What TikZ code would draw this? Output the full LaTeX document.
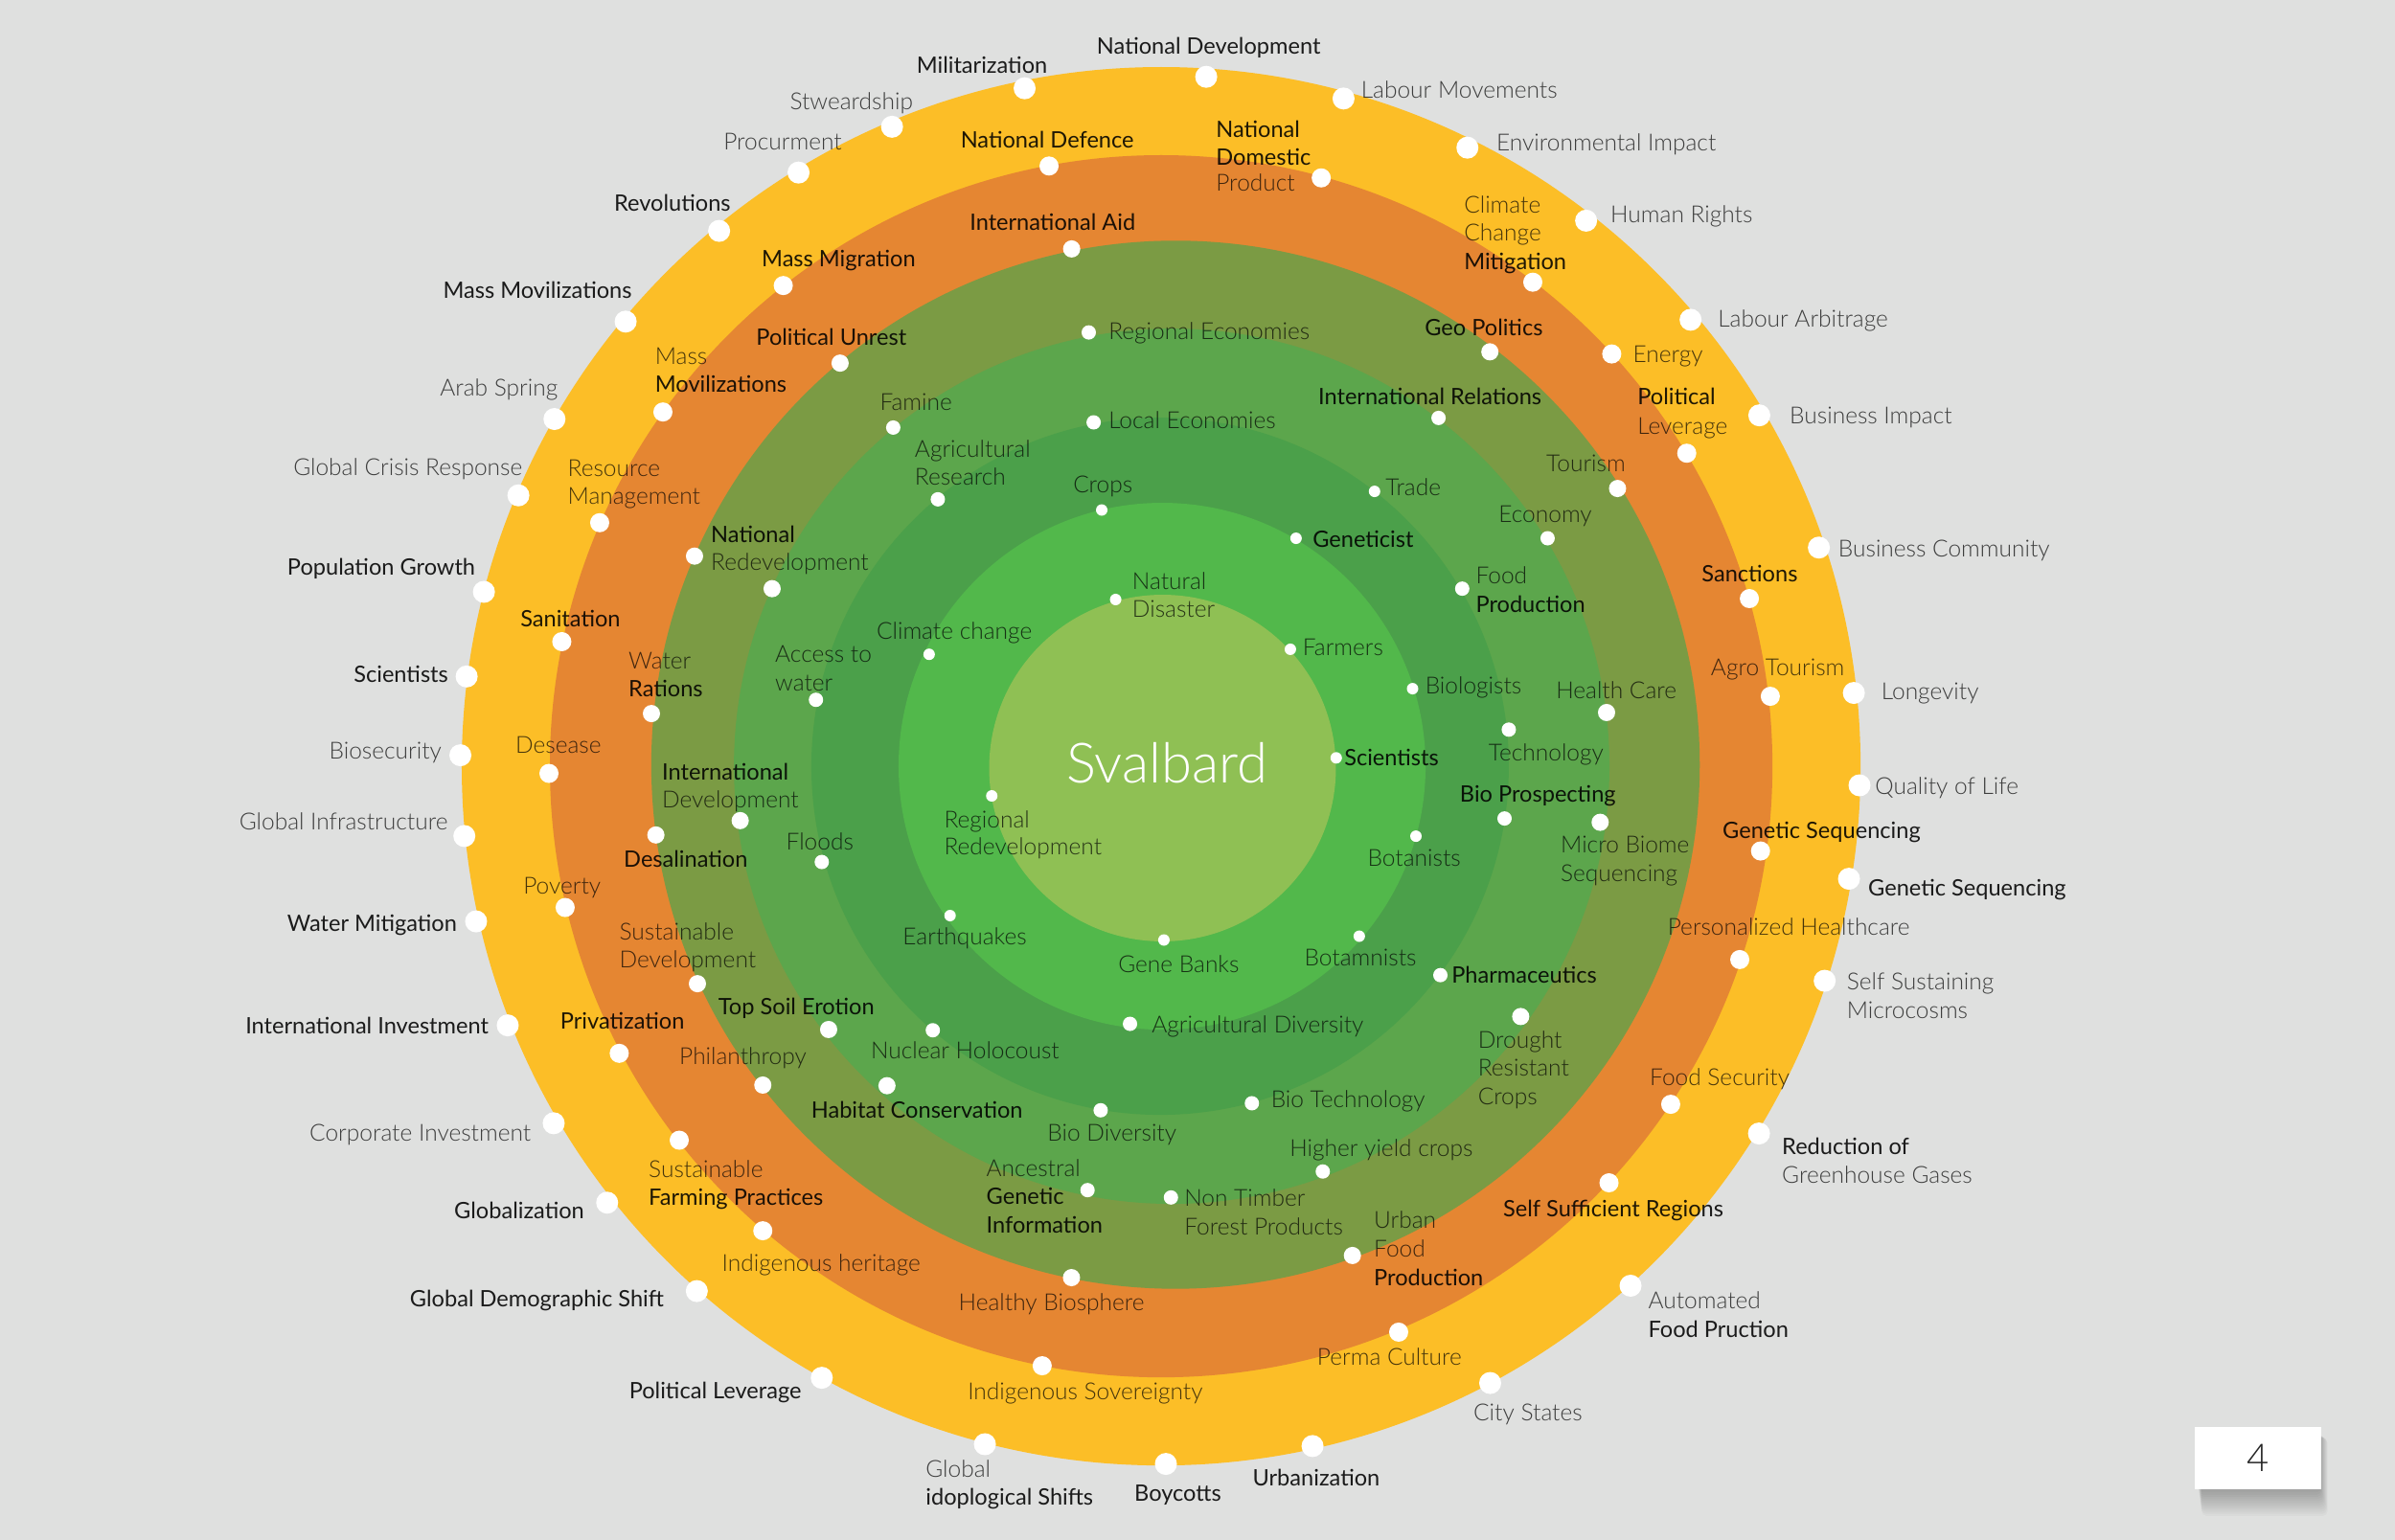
\documentclass[tikz,border=0pt]{standalone}
\usepackage{fontspec}
\setmainfont{Lato}
\newfontfamily\latolight{Lato Light}
\definecolor{bg}{HTML}{DFE0DF}
\definecolor{ringY}{HTML}{FCBE27}
\definecolor{ringO}{HTML}{E58632}
\definecolor{ringOl}{HTML}{7B9B44}
\definecolor{ringG4}{HTML}{5CA64C}
\definecolor{ringG3}{HTML}{4BA04A}
\definecolor{ringG2}{HTML}{52B84B}
\definecolor{ringC}{HTML}{8FC054}
\tikzset{
  lbase/.style={inner sep=0pt, anchor=west, text height=17pt, text depth=0pt, text=black},
  dk/.style={lbase, font=\fontsize{23.6}{29.5}\selectfont, text opacity=0.88},
  lt/.style={lbase, font=\latolight\fontsize{24.5}{29.5}\selectfont, text opacity=0.72},
  dotbase/.style={circle, fill=white, draw=none, inner sep=0pt},
  dA/.style={dotbase, minimum size=23pt},
  dB/.style={dotbase, minimum size=20pt},
  dC/.style={dotbase, minimum size=18pt},
  dD/.style={dotbase, minimum size=15pt},
  dE/.style={dotbase, minimum size=12pt},
  pagebox/.style={fill=white, inner sep=0pt, minimum width=132pt, minimum height=65.5pt, font=\latolight\fontsize{40}{40}\selectfont, text=black!85},
}
\begin{document}
\begin{tikzpicture}[x=1.59439pt, y=-1.59439pt]
\useasboundingbox (0,0) rectangle (1568,1008.5);
\fill[bg] (0,0) rectangle (1568,1008.5);
% rings
\fill[ringY]  (760.2,501.8) circle (457.9);
\fill[ringO]  (760.2,501.8) circle (400.2);
\fill[ringOl] (769.6,500.8) circle (343.2);
\fill[ringG4] (767.1,501.8) circle (286.6);
\fill[ringG3] (759.5,501.8) circle (228.3);
\fill[ringG2] (760.8,501.8) circle (172.5);
\fill[ringC]  (761.1,503.0) circle (113.5);
% page number box with shadow
\foreach \i in {1,...,12}{
  \fill[black, opacity=0.025, rounded corners=5] (1439+0.2*\i,938+0.3*\i) rectangle (1519+0.4*\i,976+1.4*\i);
}
\node[pagebox] (pg) at (1478.3,955) {4};
% ---------------- outer ring (yellow) dots
\node[dA] (d1) at (670.8,57.8) {};
\node[dA] (d2) at (789.7,50.3) {};
\node[dA] (d3) at (584,83) {};
\node[dA] (d4) at (522.8,113) {};
\node[dA] (d5) at (470.8,151.2) {};
\node[dA] (d6) at (409.6,210.6) {};
\node[dA] (d7) at (363,274.4) {};
\node[dA] (d8) at (339.4,324.4) {};
\node[dA] (d9) at (316.8,387.6) {};
\node[dA] (d10) at (305.5,443) {};
\node[dA] (d11) at (301.4,494.6) {};
\node[dA] (d12) at (304,547.5) {};
\node[dA] (d13) at (311.7,603.4) {};
\node[dA] (d14) at (332.4,671.5) {};
\node[dA] (d15) at (362.5,735.6) {};
\node[dA] (d16) at (397.5,787.6) {};
\node[dA] (d17) at (456.2,845.5) {};
\node[dA] (d18) at (538,902.3) {};
\node[dA] (d19) at (644.8,945.8) {};
\node[dA] (d20) at (763.3,958.7) {};
\node[dA] (d21) at (859.3,947) {};
\node[dA] (d22) at (975.6,905.7) {};
\node[dA] (d23) at (1067.5,842) {};
\node[dA] (d24) at (1151.6,742.3) {};
\node[dA] (d25) at (1194.6,642.3) {};
\node[dA] (d26) at (1210.5,575.5) {};
\node[dA] (d27) at (1217.4,514.3) {};
\node[dA] (d28) at (1213.7,453.8) {};
\node[dA] (d29) at (1190.8,358.6) {};
\node[dA] (d30) at (1151.8,272) {};
\node[dA] (d31) at (1106.8,209.4) {};
\node[dA] (d32) at (1038.4,144.5) {};
\node[dA] (d33) at (960.7,96.7) {};
\node[dA] (d34) at (879.6,64.5) {};
% ---------------- orange ring dots
\node[dB] (d36) at (686.8,108.7) {};
\node[dB] (d37) at (865,116.5) {};
\node[dB] (d38) at (1003.5,184.8) {};
\node[dB] (d39) at (1055.2,231.8) {};
\node[dB] (d40) at (1104.3,296.8) {};
\node[dB] (d41) at (1145.3,392) {};
\node[dB] (d42) at (1159,456) {};
\node[dB] (d43) at (1152.6,557.3) {};
\node[dB] (d44) at (1139,628.4) {};
\node[dB] (d45) at (1093.8,723.2) {};
\node[dB] (d46) at (1053.4,774.6) {};
\node[dB] (d47) at (915.7,872.4) {};
\node[dB] (d48) at (682.3,894.4) {};
\node[dB] (d49) at (499.4,806) {};
\node[dB] (d50) at (444.7,746.7) {};
\node[dB] (d51) at (405.4,689.8) {};
\node[dB] (d52) at (370,594.3) {};
\node[dB] (d53) at (359.4,506.5) {};
\node[dB] (d54) at (367.8,420.2) {};
\node[dB] (d55) at (392.6,342.3) {};
\node[dB] (d56) at (434,269.8) {};
\node[dB] (d57) at (512.8,187) {};
% ---------------- olive ring dots
\node[dC] (d58) at (701.6,163) {};
\node[dC] (d59) at (550,237.8) {};
\node[dC] (d60) at (975.4,230.4) {};
\node[dC] (d61) at (1059,319.9) {};
\node[dC] (d62) at (1051.8,466.6) {};
\node[dC] (d63) at (1047.6,538.5) {};
\node[dC] (d64) at (995.6,665.7) {};
\node[dC] (d65) at (885.4,822.2) {};
\node[dC] (d66) at (701.5,836.7) {};
\node[dC] (d67) at (456.6,644.2) {};
\node[dC] (d68) at (429.4,546.8) {};
\node[dC] (d69) at (426.5,467.3) {};
\node[dC] (d70) at (499.4,710.6) {};
\node[dC] (d72) at (580.7,711) {};
\node[dC] (d73) at (542.5,674.2) {};
\node[dC] (d74) at (484.6,537.4) {};
\node[dC] (d75) at (505.5,385.5) {};
\node[dC] (d75x) at (454.7,364.2) {};
% ---------------- green ring dots
\node[dD] (d76) at (584.8,280) {};
\node[dD] (d77) at (614,327) {};
\node[dD] (d78) at (712.8,217.7) {};
\node[dD] (d79) at (716,276.6) {};
\node[dD] (d80) at (941.8,273.7) {};
\node[dD] (d81) at (1013.2,352.5) {};
\node[dD] (d82) at (957.3,385.5) {};
\node[dD] (d83) at (987.8,477.8) {};
\node[dD] (d84) at (985,536) {};
\node[dD] (d85) at (943,638.6) {};
\node[dD] (d86) at (819.6,722.5) {};
\node[dD] (d87) at (866,767.2) {};
\node[dD] (d88) at (766.6,784.2) {};
\node[dD] (d89) at (712,779.4) {};
\node[dD] (d90) at (720.6,727.1) {};
\node[dD] (d91) at (610.7,674.7) {};
\node[dD] (d92) at (739.8,670.5) {};
\node[dD] (d94) at (538,564.5) {};
\node[dD] (d95) at (534.2,458.3) {};
% ---------------- inner dots
\node[dE] (d96) at (721.3,334) {};
\node[dE] (d97) at (899.9,321.8) {};
\node[dE] (d98) at (848.5,352.5) {};
\node[dE] (d99) at (730.4,392.6) {};
\node[dE] (d100) at (844.8,425.2) {};
\node[dE] (d101) at (924.8,451) {};
\node[dE] (d102) at (874.8,496.3) {};
\node[dE] (d103) at (927,547.6) {};
\node[dE] (d104) at (889.9,613.1) {};
\node[dE] (d105) at (762,615.6) {};
\node[dE] (d106) at (622,599.6) {};
\node[dE] (d107) at (649.3,521.2) {};
\node[dE] (d108) at (608.3,428.5) {};
% ---------------- centre
\node[inner sep=0pt, anchor=base, text=white, font=\latolight\fontsize{58}{58}\selectfont] (sv) at (763.9,512.6) {Svalbard};
% ---------------- outer labels
\node[dk] (l1) at (600,42.6) {Militarization};
\node[dk] (l2) at (718,30) {National Development};
\node[lt] (l3) at (517,66.5) {Stweardship};
\node[lt] (l4) at (473.6,93) {Procurment};
\node[dk] (l5) at (402,133) {Revolutions};
\node[dk] (l6) at (290,190) {Mass Movilizations};
\node[lt] (l7) at (288,253.8) {Arab Spring};
\node[lt] (l8) at (192,305.8) {Global Crisis Response};
\node[dk] (l9) at (188,371.6) {Population Growth};
\node[dk] (l10) at (231.5,441.5) {Scientists};
\node[lt] (l11) at (215.4,491.7) {Biosecurity};
\node[lt] (l12) at (156.6,538) {Global Infrastructure};
\node[dk] (l13) at (188,604.6) {Water Mitigation};
\node[dk] (l14) at (160.6,671.7) {International Investment};
\node[lt] (l15) at (202.6,741.8) {Corporate Investment};
\node[dk] (l16) at (297.3,792.5) {Globalization};
\node[dk] (l17) at (268.3,850.5) {Global Demographic Shift};
\node[dk] (l18) at (411.8,910.7) {Political Leverage};
\node[lt] (l19a) at (606,962) {Global};
\node[dk] (l19b) at (606,980) {idoplogical Shifts};
\node[dk] (l20) at (742.6,977.8) {Boycotts};
\node[dk] (l21) at (820,967.8) {Urbanization};
\node[lt] (l22) at (964.6,925) {City States};
\node[lt] (l23a) at (1079,852) {Automated};
\node[dk] (l23b) at (1079,870.6) {Food Pruction};
\node[dk] (l24a) at (1166.6,750.8) {Reduction of};
\node[lt] (l24b) at (1166.6,769.6) {Greenhouse Gases};
\node[lt] (l25a) at (1209,643) {Self Sustaining};
\node[lt] (l25b) at (1209,661.4) {Microcosms};
\node[dk] (l26) at (1223,581.4) {Genetic Sequencing};
\node[lt] (l27) at (1227.5,515) {Quality of Life};
\node[lt] (l28) at (1231.6,452.7) {Longevity};
\node[lt] (l29) at (1203.4,359.4) {Business Community};
\node[lt] (l30) at (1171.6,272) {Business Impact};
\node[lt] (l31) at (1124.6,209) {Labour Arbitrage};
\node[lt] (l32) at (1054.3,140.7) {Human Rights};
\node[lt] (l33) at (979.6,93.4) {Environmental Impact};
\node[lt] (l34) at (891,58.7) {Labour Movements};
% ---------------- orange ring labels
\node[dk] (l36) at (628.8,91.4) {National Defence};
\node[dk] (l37a) at (796,84.4) {National};
\node[dk] (l37b) at (796,102.6) {Domestic};
\node[lt] (l37c) at (796,119.8) {Product};
\node[lt] (l38a) at (958.4,134) {Climate};
\node[lt] (l38b) at (958.4,152.3) {Change};
\node[dk] (l38c) at (958.4,171.3) {Mitigation};
\node[lt] (l39) at (1069,231.8) {Energy};
\node[dk] (l40a) at (1072,259.8) {Political};
\node[lt] (l40b) at (1072,278.9) {Leverage};
\node[dk] (l41) at (1114,375.8) {Sanctions};
\node[lt] (l42) at (1120,437) {Agro Tourism};
\node[dk] (l43) at (1127.7,543.8) {Genetic Sequencing};
\node[lt] (l44) at (1091.7,607) {Personalized Healthcare};
\node[lt] (l45) at (1080,705.4) {Food Security};
\node[dk] (l46) at (984,791.3) {Self Sufficient Regions};
\node[lt] (l47) at (862.2,888.7) {Perma Culture};
\node[lt] (l48) at (633.5,911) {Indigenous Sovereignty};
\node[lt] (l49) at (472.6,827) {Indigenous heritage};
\node[lt] (l50a) at (424.6,765.7) {Sustainable};
\node[dk] (l50b) at (424.6,784) {Farming Practices};
\node[dk] (l51) at (366.7,668.6) {Privatization};
\node[lt] (l52) at (342.5,580) {Poverty};
\node[lt] (l53) at (337.4,488) {Desease};
\node[dk] (l54) at (340.6,405) {Sanitation};
\node[lt] (l55a) at (371.6,306.4) {Resource};
\node[lt] (l55b) at (371.6,324.8) {Management};
\node[lt] (l56a) at (428.8,233.4) {Mass};
\node[dk] (l56b) at (428.8,251.6) {Movilizations};
\node[dk] (l57) at (498.6,169.5) {Mass Migration};
% ---------------- olive ring labels
\node[dk] (l58) at (634.8,145.2) {International Aid};
\node[dk] (l59) at (495,220.6) {Political Unrest};
\node[dk] (l60) at (932.7,214.7) {Geo Politics};
\node[lt] (l61) at (1012.3,303.5) {Tourism};
\node[lt] (l62) at (1018.6,452) {Health Care};
\node[lt] (l63a) at (1021.7,553) {Micro Biome};
\node[lt] (l63b) at (1021.7,571.9) {Sequencing};
\node[lt] (l64a) at (967.5,680.9) {Drought};
\node[lt] (l64b) at (967.5,699.4) {Resistant};
\node[lt] (l64c) at (967.5,718.4) {Crops};
\node[lt] (l65a) at (899.4,799) {Urban};
\node[lt] (l65b) at (899.4,817.7) {Food};
\node[dk] (l65c) at (899.4,836.4) {Production};
\node[lt] (l66) at (627.5,852.7) {Healthy Biosphere};
\node[lt] (l67a) at (405.4,610.2) {Sustainable};
\node[lt] (l67b) at (405.4,628.5) {Development};
\node[dk] (l68) at (408.3,562.5) {Desalination};
\node[lt] (l69a) at (411.4,432.5) {Water};
\node[dk] (l69b) at (411.4,451) {Rations};
\node[lt] (l70) at (444.7,691.9) {Philanthropy};
\node[dk] (l72) at (531,726.6) {Habitat Conservation};
\node[dk] (l73) at (470.2,659.2) {Top Soil Erotion};
\node[dk] (l74a) at (433.4,505.3) {International};
\node[lt] (l74b) at (433.4,523.7) {Development};
\node[dk] (l75a) at (465.4,349.7) {National};
\node[lt] (l75b) at (465.4,368.2) {Redevelopment};
% ---------------- green ring labels
\node[lt] (l76) at (576,263.6) {Famine};
\node[lt] (l77a) at (598.8,294) {Agricultural};
\node[lt] (l77b) at (598.8,312.5) {Research};
\node[lt] (l78) at (725.7,217.3) {Regional Economies};
\node[lt] (l79) at (725.7,275.5) {Local Economies};
\node[dk] (l80) at (863,259.8) {International Relations};
\node[lt] (l81) at (981,337) {Economy};
\node[lt] (l82a) at (966.1,377.2) {Food};
\node[dk] (l82b) at (966.1,396) {Production};
\node[lt] (l83) at (974.5,493) {Technology};
\node[dk] (l84) at (955.7,520) {Bio Prospecting};
\node[dk] (l85) at (950.3,638.6) {Pharmaceutics};
\node[lt] (l86) at (832,720) {Bio Technology};
\node[lt] (l87) at (844.3,752.3) {Higher yield crops};
\node[lt] (l88a) at (775.3,784.6) {Non Timber};
\node[lt] (l88b) at (775.3,803.2) {Forest Products};
\node[lt] (l89a) at (645.7,765.2) {Ancestral};
\node[dk] (l89b) at (645.7,783.4) {Genetic};
\node[dk] (l89c) at (645.7,802.2) {Information};
\node[lt] (l90) at (685.7,742) {Bio Diversity};
\node[lt] (l91) at (570,687.8) {Nuclear Holocoust};
\node[lt] (l92) at (754,671) {Agricultural Diversity};
\node[lt] (l94) at (514.6,551.3) {Floods};
\node[lt] (l95a) at (507.4,428.4) {Access to};
\node[lt] (l95b) at (507.4,447) {water};
% ---------------- inner labels
\node[lt] (l96) at (702.5,317.4) {Crops};
\node[lt] (l97) at (907,319) {Trade};
\node[dk] (l98) at (859.3,353) {Geneticist};
\node[lt] (l99a) at (741.2,380.7) {Natural};
\node[lt] (l99b) at (741.2,399) {Disaster};
\node[lt] (l100) at (852.8,423.7) {Farmers};
\node[lt] (l101) at (933,449.3) {Biologists};
\node[dk] (l102) at (880,496.3) {Scientists};
\node[lt] (l103) at (895.3,562.2) {Botanists};
\node[lt] (l104) at (853.9,627.5) {Botamnists};
\node[lt] (l105) at (732,631.6) {Gene Banks};
\node[lt] (l106) at (591,613.1) {Earthquakes};
\node[lt] (l107a) at (618,536.6) {Regional};
\node[lt] (l107b) at (618,554.3) {Redevelopment};
\node[lt] (l108) at (573.8,413.1) {Climate change};
\end{tikzpicture}
\end{document}
